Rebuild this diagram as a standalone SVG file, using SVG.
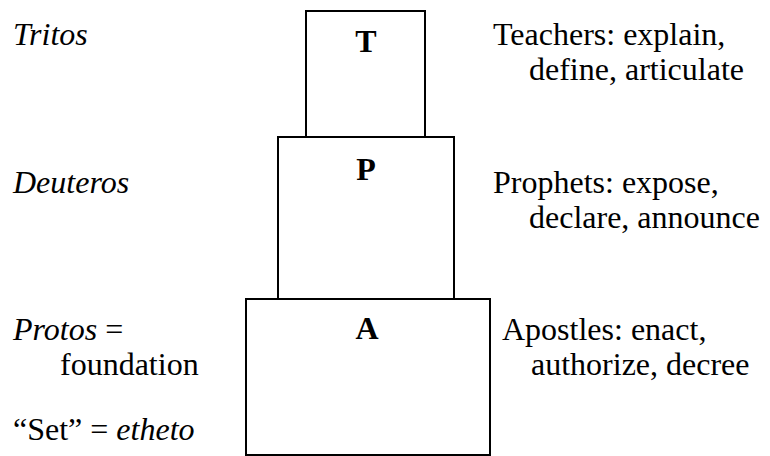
<svg xmlns="http://www.w3.org/2000/svg" width="770" height="456" viewBox="0 0 770 456">
<style>
.box{fill:#fff;stroke:#000;stroke-width:2}
.t{font-family:'Liberation Serif','Times New Roman',Tinos,serif;font-size:32px;fill:#000}
.i{font-style:italic}
.b{font-weight:bold;text-anchor:middle}
</style>
<rect width="770" height="456" fill="#fff"/>
<g id="node-T">
<rect class="box" x="306" y="11" width="119" height="126"/>
<text class="t b" x="366" y="52">T</text>
</g>
<g id="node-P">
<rect class="box" x="278" y="137" width="176" height="162"/>
<text class="t b" x="366" y="180">P</text>
</g>
<g id="node-A">
<rect class="box" x="246" y="299" width="244" height="156"/>
<text class="t b" x="367" y="339">A</text>
</g>
<g id="connectors"></g>
<g id="labels-left">
<text class="t i" x="13" y="45">Tritos</text>
<text class="t i" x="13" y="193">Deuteros</text>
<text class="t" x="13" y="340"><tspan class="i">Protos</tspan> =</text>
<text class="t" x="60" y="375">foundation</text>
<text class="t" x="13" y="440">“Set” = <tspan class="i">etheto</tspan></text>
</g>
<g id="labels-right">
<text class="t" x="493" y="45">Teachers: explain,</text>
<text class="t" x="529" y="80">define, articulate</text>
<text class="t" x="493" y="193">Prophets: expose,</text>
<text class="t" x="529" y="228">declare, announce</text>
<text class="t" x="502" y="340">Apostles: enact,</text>
<text class="t" x="531" y="375">authorize, decree</text>
</g>
</svg>
